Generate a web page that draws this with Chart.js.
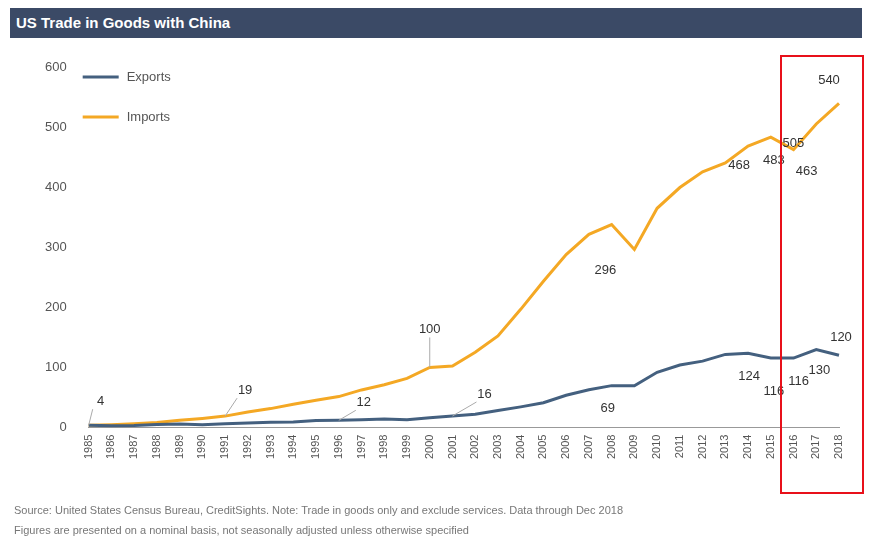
<!DOCTYPE html>
<html><head><meta charset="utf-8">
<script src="https://cdn.jsdelivr.net/npm/chart.js@4"></script>
<style>
body{margin:0;background:#fff;font-family:"Liberation Sans",Arial,sans-serif}
#wrap{position:relative;width:874px;height:550px}
#title{position:absolute;left:10px;top:8px;width:852px;height:30px;background:#3b4a66;color:#fff;font-weight:bold;font-size:15px;line-height:30px;padding-left:6px;box-sizing:border-box}
#src{position:absolute;left:14px;top:500px;font-size:11px;color:#777;line-height:20px}
#box{position:absolute;left:780px;top:55px;width:80px;height:435px;border:2px solid #e8101a}
canvas{position:absolute;left:0;top:0}
</style></head><body>
<div id="wrap">
<canvas id="c" width="874" height="550"></canvas>
<div id="title">US Trade in Goods with China</div>
<div id="box"></div>
<div id="src">Source: United States Census Bureau, CreditSights. Note: Trade in goods only and exclude services. Data through Dec 2018<br>Figures are presented on a nominal basis, not seasonally adjusted unless otherwise specified</div>
</div>
<script>
const years = [];
for (let y = 1985; y <= 2018; y++) years.push(String(y));
const exportsData = [3.9,3.1,3.5,5.0,5.8,4.8,6.3,7.4,8.8,9.3,11.7,12.0,12.9,14.2,13.1,16.2,19.2,22.1,28.4,34.4,41.2,53.7,62.9,69.7,69.5,91.9,104.1,110.5,121.7,123.7,115.9,115.6,129.9,120.3];
const importsData = [3.9,4.8,6.3,8.5,12.0,15.2,19.0,25.7,31.5,38.8,45.5,51.5,62.6,71.2,81.8,100.0,102.3,125.2,152.4,196.7,243.5,287.8,321.4,337.8,296.4,364.9,399.4,425.6,440.4,468.5,483.2,462.4,505.2,539.5];
// [dataset, index, text, dx, dy, leader]
const notes = [
  [1,0,"4",12,-24,true],[1,6,"19",20,-26,true],[1,15,"100",0,-38,true],
  [0,11,"12",25,-18,true],[0,16,"16",32,-22,true],[0,23,"69",-4,23,false],
  [1,24,"296",-29,21,false],[1,29,"468",-9,19,false],[1,30,"483",3,23,false],
  [1,31,"463",13,22,false],[1,32,"505",-23,19,false],[1,33,"540",-10,-23,false],
  [0,29,"124",1,23,false],[0,30,"116",3,34,false],[0,31,"116",5,23,false],
  [0,32,"130",3,21,false],[0,33,"120",2,-18,false]
];
const notePlugin = {
  id:'notes',
  afterDatasetsDraw(chart){
    const ctx = chart.ctx;
    ctx.save();
    ctx.font = '13px "Liberation Sans", Arial';
    ctx.fillStyle = '#333';
    ctx.textAlign = 'center';
    ctx.textBaseline = 'middle';
    notes.forEach(([d,i,t,dx,dy,lead])=>{
      const p = chart.getDatasetMeta(d).data[i];
      const x = p.x + dx, y = p.y + dy;
      if (lead){
        ctx.strokeStyle = '#aaa'; ctx.lineWidth = 1;
        ctx.beginPath(); ctx.moveTo(p.x, p.y); ctx.lineTo(x - Math.sign(dx)*8, y + 8); ctx.stroke();
      }
      ctx.fillText(t, x, y);
    });
    // legend
    const a = chart.chartArea;
    ctx.textAlign = 'left';
    ctx.fillStyle = '#555';
    chart.data.datasets.forEach((ds,k)=>{
      const y = a.top + 10 + k*40;
      ctx.strokeStyle = ds.borderColor; ctx.lineWidth = 3;
      ctx.beginPath(); ctx.moveTo(a.left - 6, y); ctx.lineTo(a.left + 30, y); ctx.stroke();
      ctx.fillText(ds.label, a.left + 38, y);
    });
    ctx.restore();
  }
};
new Chart(document.getElementById('c'), {
  type:'line',
  data:{labels:years,datasets:[
    {label:'Exports',data:exportsData,borderColor:'#44607f',backgroundColor:'#44607f',borderWidth:3,pointRadius:0,tension:0},
    {label:'Imports',data:importsData,borderColor:'#f4a824',backgroundColor:'#f4a824',borderWidth:3,pointRadius:0,tension:0}
  ]},
  options:{
    responsive:false,animation:false,
    layout:{padding:{top:67,bottom:88,left:31,right:35}},
    scales:{
      x:{grid:{display:false,drawTicks:true,tickLength:4},border:{color:'#999'},
         ticks:{maxRotation:90,minRotation:90,autoSkip:false,color:'#555',font:{size:11}}},
      y:{min:0,max:600,grid:{display:false},border:{display:false},
         ticks:{stepSize:100,color:'#555',font:{size:13},padding:14}}
    },
    plugins:{legend:{display:false},tooltip:{enabled:false}}
  },
  plugins:[notePlugin]
});
</script>
</body></html>
